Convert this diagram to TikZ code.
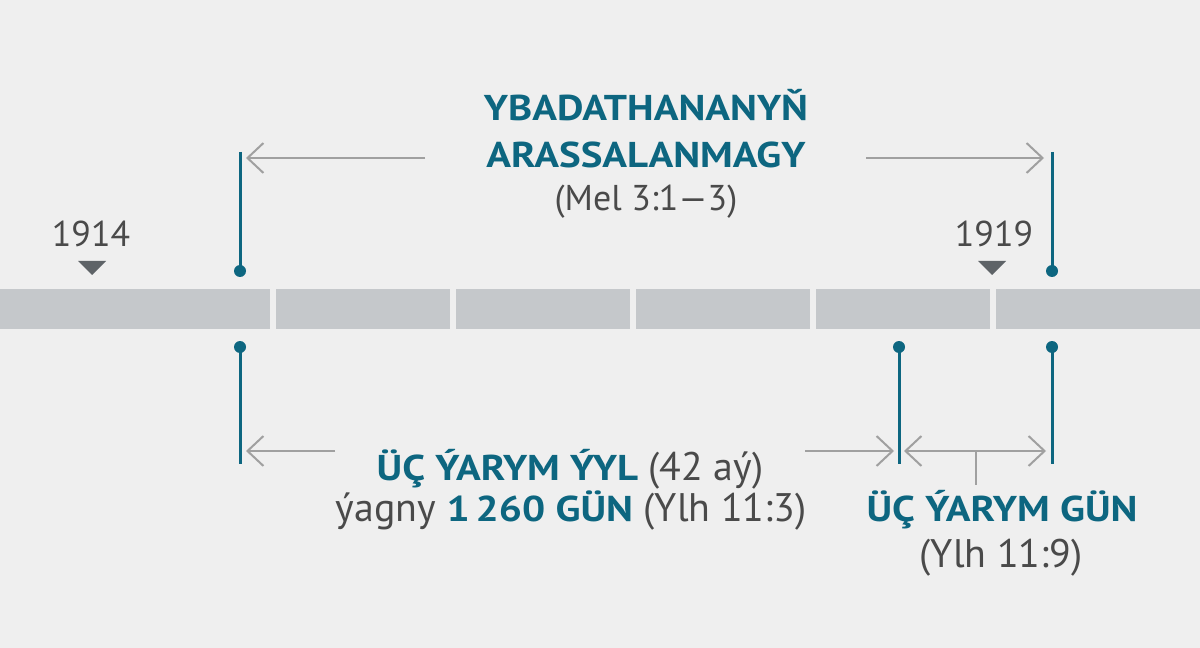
\documentclass[tikz,border=0pt]{standalone}
\usepackage{fontspec}
\setmainfont{PT Sans}[BoldFeatures={FakeStretch=1.14}]
\usetikzlibrary{arrows.meta}
\definecolor{bgc}{HTML}{EFEFEF}
\definecolor{barc}{HTML}{C5C8CB}
\definecolor{tealc}{HTML}{0D6680}
\definecolor{txtc}{HTML}{4A4A4A}
\definecolor{arrc}{HTML}{A0A0A0}
\definecolor{markc}{HTML}{5E6367}
\newcommand{\regbig}{\fontsize{40}{44}\selectfont}
\newcommand{\boldmid}{\fontsize{36}{40}\selectfont\bfseries}
\tikzset{
  barseg/.style={fill=barc, draw=none},
  tealline/.style={draw=tealc, line width=3bp},
  tealdot/.style={circle, fill=tealc, inner sep=0pt, minimum size=12bp},
  grayarrow/.style={draw=arrc, line width=2bp, -{Straight Barb[length=16bp,width=30bp,line width=2bp]}},
  grayline/.style={draw=arrc, line width=2bp},
  yearlbl/.style={text=txtc, font=\fontsize{36}{40}\selectfont, anchor=base, inner sep=0pt},
  boldlbl/.style={text=tealc, font=\boldmid, anchor=base, inner sep=0pt},
  reglbl/.style={text=txtc, font=\fontsize{36}{40}\selectfont, anchor=base, inner sep=0pt},
  lowlbl/.style={text=txtc, font=\regbig, anchor=base, inner sep=0pt},
  marker/.style={fill=markc, draw=none}
}
\begin{document}
\begin{tikzpicture}[x=1bp,y=-1bp]
\useasboundingbox (0,0) rectangle (1200,648);
\fill[bgc] (0,0) rectangle (1200,648);
% bar
\fill[barseg] (0,289) rectangle (270,329);
\fill[barseg] (276,289) rectangle (450,329);
\fill[barseg] (456,289) rectangle (630,329);
\fill[barseg] (636,289) rectangle (810,329);
\fill[barseg] (816,289) rectangle (990,329);
\fill[barseg] (996,289) rectangle (1200,329);
% year markers
\fill[marker] (78,261) -- (106,261) -- (92,275) -- cycle;
\fill[marker] (978,261) -- (1006,261) -- (992,275) -- cycle;
\node[yearlbl] (y1914) at (91,247) {1914};
\node[yearlbl] (y1919) at (994,247) {1919};
% teal lines
\coordinate (LT) at (240,152);
\node[tealdot] (LTd) at (240,271) {};
\node[tealdot] (LBd) at (240,347) {};
\coordinate (LB) at (240,464);
\coordinate (RT) at (1052,152);
\node[tealdot] (RTd) at (1052,271) {};
\node[tealdot] (RBd) at (1052,347) {};
\coordinate (RB) at (1052,464);
\node[tealdot] (MBd) at (899,347) {};
\coordinate (MB) at (899,464);
\draw[tealline] (LT) -- (LTd.center);
\draw[tealline] (LBd.center) -- (LB);
\draw[tealline] (RT) -- (RTd.center);
\draw[tealline] (RBd.center) -- (RB);
\draw[tealline] (MBd.center) -- (MB);
% top text
\node[boldlbl] (t1) at (646,121) {YBADATHANANYŇ};
\node[boldlbl] (t2) at (646,168) {ARASSALANMAGY};
\node[reglbl] (t3) at (646,211) {(Mel 3:1—3)};
% top arrows
\coordinate (TLa) at (425,158);
\coordinate (TLb) at (246,158);
\coordinate (TRa) at (866,158);
\coordinate (TRb) at (1044,158);
\draw[grayarrow] (TLa) -- (TLb);
\draw[grayarrow] (TRa) -- (TRb);
% bottom text
\node[lowlbl] (b1) at (570,480)
  {\textcolor{tealc}{\boldmid ÜÇ ÝARYM ÝYL} (42 aý)};
\node[lowlbl] (b2) at (571,521)
  {ýagny \textcolor{tealc}{\boldmid 1\,260 GÜN} (Ylh 11:3)};
\node[boldlbl] (c1) at (1002,521) {ÜÇ ÝARYM GÜN};
\node[lowlbl] (c2) at (1001,567) {(Ylh 11:9)};
% bottom arrows
\coordinate (BLa) at (335,451);
\coordinate (BLb) at (246,451);
\coordinate (BRa) at (805,451);
\coordinate (BRb) at (894,451);
\draw[grayarrow] (BLa) -- (BLb);
\draw[grayarrow] (BRa) -- (BRb);
\coordinate (SM) at (976,451);
\coordinate (SL) at (904,451);
\coordinate (SR) at (1046,451);
\coordinate (ST) at (976,485);
\draw[grayarrow] (SM) -- (SL);
\draw[grayarrow] (SM) -- (SR);
\draw[grayline] (SM) -- (ST);
\end{tikzpicture}
\end{document}
